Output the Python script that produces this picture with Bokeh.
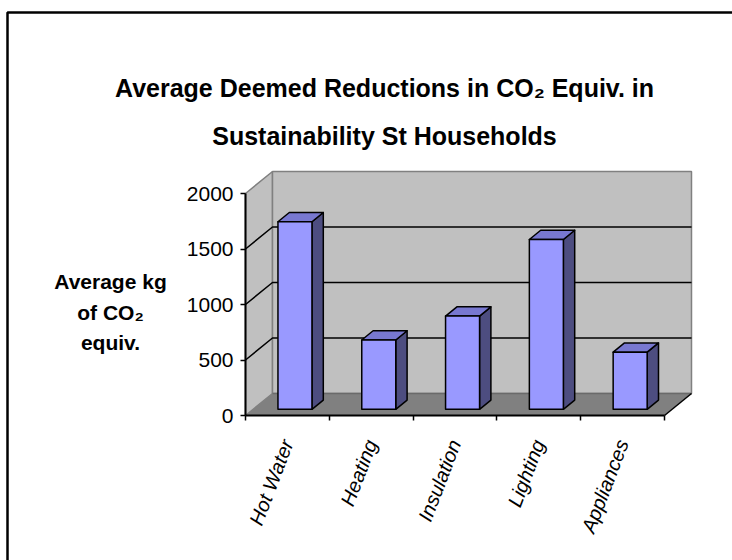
import math
from bokeh.plotting import figure
from bokeh.models import Range1d, FixedTicker, CustomJSTickFormatter
from bokeh.core.properties import value
from bokeh.embed import file_html
from bokeh.resources import INLINE

# ---- data ----
categories = ["Hot Water", "Heating", "Insulation", "Lighting", "Appliances"]
values = [1690, 625, 840, 1530, 515]
y_ticks = [0, 500, 1000, 1500, 2000]
title_lines = ["Average Deemed Reductions in CO\u2082 Equiv. in", "Sustainability St Households"]
ylabel_lines = ["Average kg", "of CO\u2082", "equiv."]

# ---- geometry (pixel layout of the 3D box) ----
W, H = 732, 560
OX, OY = 245, 415          # pixel position of data origin
KX = 83.8                  # px per category
KY = 222 / 2000            # px per kg


def X(px):
    return (px - OX) / KX


def Y(py):
    return (OY - py) / KY


N = len(categories)
YMAX = y_ticks[-1]
DX, DY = X(272), Y(393)    # depth of the box in data units
F0, F1 = 0.28, 0.70        # bar depth fraction (front, back)
HW = 17 / KX               # half bar width

p = figure(width=W, height=H, x_range=Range1d(X(0), X(W)), y_range=Range1d(Y(H), Y(0)),
           toolbar_location=None, output_backend="svg", min_border=0, title=None,
           background_fill_color="white", border_fill_color="white", outline_line_color=None)
p.grid.visible = False

# outer frame (top and left edges visible)
p.line([X(7), X(7), X(W + 10)], [Y(H + 10), Y(12), Y(12)], line_color="black", line_width=2.5)

WALL = "#C0C0C0"
EDGE = "#808080"
# left wall
p.patch([0, DX, DX, 0], [0, DY, YMAX + DY, YMAX], fill_color=WALL, line_color=EDGE, line_width=1.5)
# back wall
p.patch([DX, N + DX, N + DX, DX], [DY, DY, YMAX + DY, YMAX + DY], fill_color=WALL,
        line_color=EDGE, line_width=1.5)
# floor
p.patch([0, N, N + DX, DX], [0, 0, DY, DY], fill_color="#808080", line_color=None)
p.line([DX, N + DX], [DY, DY], line_color="#6a6a6a", line_width=1.5)
p.line([N, N + DX], [0, DY], line_color="black", line_width=1.5)

# gridlines
gx, gy = [], []
for v in y_ticks[1:-1]:
    gx.append([0, DX, N + DX])
    gy.append([v, v + DY, v + DY])
p.multi_line(gx, gy, line_color="black", line_width=1.5)

# bars
fx0, fy0 = F0 * DX, F0 * DY
fx1, fy1 = F1 * DX, F1 * DY
for i, v in enumerate(values):
    c = i + 0.5
    l, r = c - HW, c + HW
    # side
    p.patch([r + fx0, r + fx1, r + fx1, r + fx0], [fy0, fy1, v + fy1, v + fy0],
            fill_color="#4D4D80", line_color="black", line_width=1.5, line_join="round")
    # top
    p.patch([l + fx0, r + fx0, r + fx1, l + fx1], [v + fy0, v + fy0, v + fy1, v + fy1],
            fill_color="#7878D0", line_color="black", line_width=1.5, line_join="round")
    # front
    p.patch([l + fx0, r + fx0, r + fx0, l + fx0], [fy0, fy0, v + fy0, v + fy0],
            fill_color="#9999FF", line_color="black", line_width=1.5, line_join="round")

# axes
ya = p.yaxis[0]
ya.fixed_location = 0
ya.ticker = FixedTicker(ticks=y_ticks)
ya.bounds = (0, YMAX)
ya.axis_line_color = "black"
ya.axis_line_width = 2
ya.major_tick_out = 5
ya.major_tick_in = 0
ya.major_tick_line_width = 1.5
ya.minor_tick_out = 0
ya.minor_tick_in = 0
ya.major_label_standoff = 7
ya.major_label_text_font = "Liberation Sans"
ya.major_label_text_font_size = "21px"
ya.major_label_text_color = "black"

xa = p.xaxis[0]
xa.fixed_location = 0
xa.ticker = FixedTicker(ticks=[i + 0.5 for i in range(N)], minor_ticks=list(range(N + 1)))
xa.bounds = (0, N)
xa.axis_line_color = "black"
xa.axis_line_width = 2
xa.major_tick_line_color = None
xa.major_tick_out = 0
xa.major_tick_in = 0
xa.minor_tick_out = 5
xa.minor_tick_in = 0
xa.minor_tick_line_color = "black"
xa.minor_tick_line_width = 1.5
xa.formatter = CustomJSTickFormatter(args=dict(labels=categories),
                                     code="return labels[Math.floor(tick)];")
xa.major_label_orientation = math.radians(69)
xa.major_label_standoff = 20
xa.major_label_text_font = "Liberation Sans"
xa.major_label_text_font_style = "italic"
xa.major_label_text_font_size = "20px"
xa.major_label_text_color = "black"

# title
p.text(x=[X(384)] * 2, y=[Y(87), Y(135)], text=title_lines,
       text_font=value("Liberation Sans"), text_font_style="bold",
       text_font_size="25px", text_align="center", text_baseline="alphabetic",
       text_color="black")

# y axis label
p.text(x=[X(110)] * 3, y=[Y(281), Y(312), Y(342)], text=ylabel_lines,
       text_font=value("Liberation Sans"), text_font_style="bold",
       text_font_size="21px", text_align="center", text_baseline="alphabetic",
       text_color="black")

open("out.html", "w").write(file_html(p, INLINE))
